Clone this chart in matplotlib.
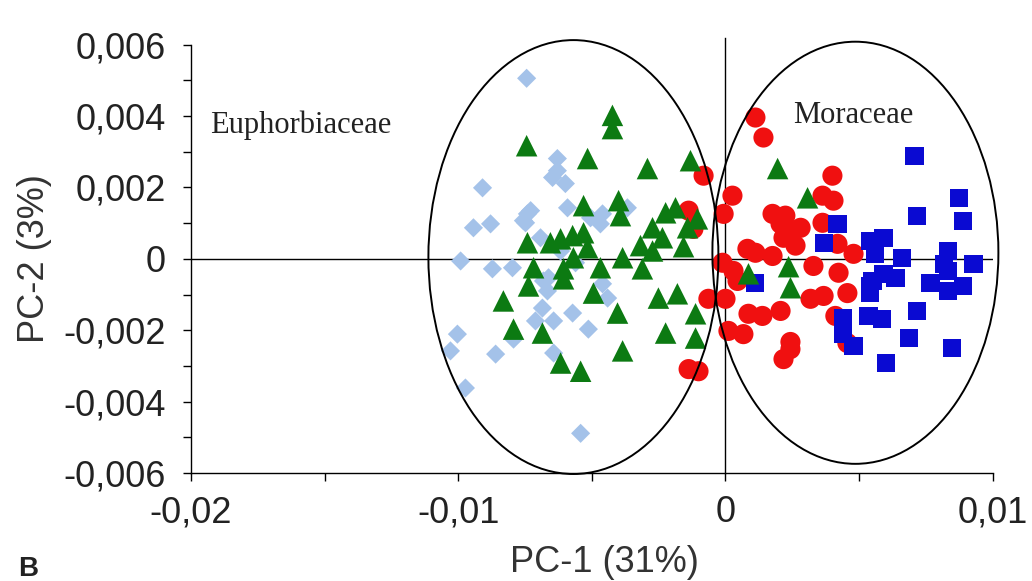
"""Nuage PCA (PC-1 / PC-2) avec deux ellipses de regroupement."""

import matplotlib
matplotlib.use("Agg")
import matplotlib.pyplot as plt
from matplotlib.patches import Ellipse
from matplotlib.ticker import FuncFormatter, MultipleLocator
import numpy as np

plt.rcParams['font.family'] = ['Liberation Sans', 'DejaVu Sans']

# Valeurs (unités 1e-3)
bleu_clair_x = [-7.44, -9.09, -6.29, -6.47, -5.99, -6.29, -9.43, -8.79, -7.41, -7.56,
                -5.91, -5.05, -4.60, -4.68, -3.67, -6.92, -9.91, -8.72, -7.97, -6.81,
                -6.66, -6.85, -7.11, -6.43, -4.60, -4.41, -5.13, -10.03, -10.29, -8.60,
                -6.43, -9.73, -5.42, -7.93, -5.72, -6.62, -7.29, -7.48, -6.17, -5.61]
bleu_clair_y = [5.06, 1.99, 2.81, 2.28, 2.11, 2.47, 0.87, 0.98, 1.26, 1.07,
                1.43, 1.15, 1.26, 0.98, 1.43, 0.59, -0.06, -0.28, -0.25, -0.62,
                -0.90, -1.38, -1.74, -1.74, -0.70, -1.10, -1.97, -2.11, -2.58, -2.67,
                -2.64, -3.62, -4.89, -2.25, -1.52, -0.53, 1.35, 1.01, 0.22, -0.11]

vert_x = [-4.23, -4.23, -7.44, -5.16, -2.92, -1.31, -5.31, -4.00, -3.93, -2.24,
          -1.87, -1.05, -2.73, -2.36, -1.42, -7.41, -6.55, -6.17, -5.72, -5.31,
          -5.16, -3.18, -2.73, -1.57, -3.85, -4.68, -3.11, -7.18, -6.06, -5.69,
          -7.37, -6.06, -8.31, -4.94, -4.04, -2.51, -1.80, -1.12, -7.93, -6.85,
          -2.24, -1.12, -3.85, -6.17, -5.42, 1.95, 3.07, 2.36, 0.86, 2.43]
vert_y = [4.02, 3.65, 3.17, 2.81, 2.53, 2.75, 1.49, 1.63, 1.21, 1.29,
          1.43, 1.12, 0.87, 0.59, 0.87, 0.45, 0.45, 0.56, 0.65, 0.73,
          0.31, 0.37, 0.22, 0.34, 0.03, -0.25, -0.28, -0.25, -0.28, 0.03,
          -0.76, -0.56, -1.18, -0.96, -1.52, -1.10, -0.98, -1.54, -1.97, -2.08,
          -2.08, -2.22, -2.58, -2.92, -3.15, 2.53, 1.71, -0.22, -0.42, -0.81]

rouge_x = [1.12, 1.42, -0.82, 4.00, 0.26, -1.38, -0.07, -1.20, 3.63, 4.04,
           1.76, 2.24, 2.06, 2.81, 2.17, 2.62, 2.36, 3.63, 4.19, 4.79,
           0.82, 1.12, 1.76, 3.29, 4.23, -0.11, 0.30, 0.45, -0.64, 0.00,
           3.18, 3.67, 4.56, 2.06, 0.86, 1.38, 0.11, 0.67, 4.11, 4.56,
           2.43, 2.43, 2.17, -1.38, -1.01]
rouge_y = [3.96, 3.40, 2.33, 2.33, 1.77, 1.35, 1.26, 0.84, 1.77, 1.63,
           1.26, 1.21, 0.98, 0.87, 0.59, 0.37, 0.79, 1.01, 0.42, 0.14,
           0.28, 0.17, 0.08, -0.20, -0.39, -0.11, -0.34, -0.62, -1.12, -1.12,
           -1.12, -1.04, -0.96, -1.46, -1.54, -1.60, -2.02, -2.11, -1.60, -2.36,
           -2.33, -2.53, -2.81, -3.09, -3.15]

bleu_x = [7.07, 8.72, 7.18, 8.87, 4.19, 3.67, 5.42, 5.91, 5.61, 6.62,
          8.31, 8.16, 9.28, 1.12, 5.50, 5.91, 6.36, 5.42, 7.67, 8.31,
          8.31, 8.90, 5.35, 5.87, 7.18, 4.41, 4.41, 4.79, 6.85, 8.49,
          5.99, 5.39]
bleu_y = [2.89, 1.71, 1.21, 1.07, 0.98, 0.45, 0.51, 0.59, 0.14, 0.03,
          0.22, -0.14, -0.14, -0.67, -0.62, -0.42, -0.53, -0.96, -0.67, -0.34,
          -0.90, -0.76, -1.60, -1.69, -1.46, -1.66, -2.11, -2.44, -2.22, -2.50,
          -2.92, -0.76]

# Ellipses : centre (x, y), largeur, hauteur (unités 1e-3)
ellipse_gauche = (-5.69, 0.05, 10.85, 12.16)
ellipse_droite = (4.86, 0.17, 10.7, 11.83)


def format_fr(decimales):
    """Formateur décimal à la française (virgule)."""
    def fmt(val, pos):
        if abs(val) < 1e-12:
            return "0"
        return f"{val:.{decimales}f}".replace(".", ",")
    return FuncFormatter(fmt)


fig = plt.figure(figsize=(10.32, 5.81), dpi=100)
ax = fig.add_axes([0.185, 0.186, 0.777, 0.737])

ech = 1e-3
ax.scatter(np.array(bleu_clair_x) * ech, np.array(bleu_clair_y) * ech, marker='D',
           s=95, color='#a4c2e9', edgecolors='none', zorder=3)
ax.scatter(np.array(rouge_x) * ech, np.array(rouge_y) * ech, marker='o',
           s=210, color='#f01010', edgecolors='none', zorder=3)
ax.scatter(np.array(bleu_x) * ech, np.array(bleu_y) * ech, marker='s',
           s=170, color='#0a0ad2', edgecolors='none', zorder=3)
ax.scatter(np.array(vert_x) * ech, np.array(vert_y) * ech, marker='^',
           s=240, color='#0c7a12', edgecolors='none', zorder=4)

for cx, cy, w, h in (ellipse_gauche, ellipse_droite):
    ax.add_patch(Ellipse((cx * ech, cy * ech), w * ech, h * ech, fill=False,
                         edgecolor='black', linewidth=1.4, zorder=5, clip_on=False))

ax.axhline(0, color='black', linewidth=1.0, zorder=2)
ax.plot([0, 0], [-0.006, 0.0062], color='black', linewidth=1.0, zorder=2, clip_on=False)

ax.set_xlim(-0.02, 0.01)
ax.set_ylim(-0.006, 0.006)
ax.xaxis.set_major_locator(MultipleLocator(0.01))
ax.xaxis.set_minor_locator(MultipleLocator(0.005))
ax.yaxis.set_major_locator(MultipleLocator(0.002))
ax.yaxis.set_minor_locator(MultipleLocator(0.001))
ax.xaxis.set_major_formatter(format_fr(2))
ax.yaxis.set_major_formatter(format_fr(3))
ax.tick_params(which='both', direction='out', length=6, width=1, labelsize=26,
               labelcolor='#222222')
ax.tick_params(axis='x', pad=10)
ax.tick_params(axis='y', pad=12)

for side in ('top', 'right'):
    ax.spines[side].set_visible(False)
for side in ('left', 'bottom'):
    ax.spines[side].set_linewidth(1.0)

ax.set_xlabel("PC-1 (31%)", fontsize=26, color='#333333')
ax.set_ylabel("PC-2 (3%)", fontsize=26, color='#333333')
ax.xaxis.set_label_coords(0.516, -0.168)
ax.yaxis.set_label_coords(-0.173, 0.5)

ax.text(-0.0193, 0.00354, "Euphorbiaceae", family='Liberation Serif', fontsize=22, color='#222222')
ax.text(0.00254, 0.0038, "Moraceae", family='Liberation Serif', fontsize=22, color='#222222')
fig.text(0.018, 0.008, "B", fontsize=20, fontweight='bold', color='#222222')

plt.savefig("out.png", dpi=100)
